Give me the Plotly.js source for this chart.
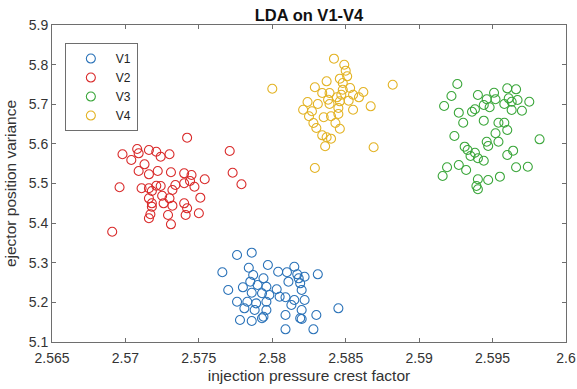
<!DOCTYPE html>
<html>
<head>
<meta charset="utf-8">
<script src="https://cdn.plot.ly/plotly-3.0.1.min.js"></script>
<style>html,body{margin:0;padding:0;background:#fff;}#chart{width:577px;height:389px;}</style>
</head>
<body>
<div id="chart"></div>
<script>
// Data
const seriesNames = ["V1", "V2", "V3", "V4"];

const v1x = [2.5776,2.5786,2.5766,2.5784,2.5797,2.5804,2.5810,2.5815,2.5817,2.5822,2.5831,2.5787,2.5794,2.5770,2.5780,2.5785,2.5790,2.5796,2.5803,2.5811,2.5819,2.5820,2.5786,2.5793,2.5798,2.5809,2.5815,2.5822,2.5776,2.5783,2.5789,2.5796,2.5781,2.5788,2.5796,2.5813,2.5820,2.5845,2.5778,2.5786,2.5793,2.5809,2.5819,2.5820,2.5830,2.5809,2.5828,2.5805,2.5818,2.5794];
const v1y = [5.3195,5.3254,5.2759,5.2875,5.2943,5.2774,5.2759,5.2900,5.2708,5.2648,5.2708,5.2691,5.2607,5.2312,5.2380,5.2522,5.2438,5.2395,5.2330,5.2522,5.2481,5.2312,5.2244,5.2229,5.2186,5.2128,5.2060,5.2060,5.2017,5.2017,5.1976,5.2017,5.1850,5.1807,5.1807,5.1934,5.1807,5.1850,5.1555,5.1530,5.1598,5.1681,5.1598,5.1580,5.1681,5.1320,5.1320,5.2143,5.2607,5.1638];

const v2x = [2.5742,2.5771,2.5698,2.5708,2.5709,2.5704,2.5716,2.5721,2.5724,2.5730,2.5713,2.5709,2.5716,2.5722,2.5731,2.5740,2.5745,2.5744,2.5754,2.5773,2.5779,2.5696,2.5711,2.5716,2.5718,2.5724,2.5734,2.5740,2.5747,2.5716,2.5725,2.5732,2.5730,2.5718,2.5726,2.5732,2.5740,2.5742,2.5751,2.5717,2.5716,2.5729,2.5741,2.5750,2.5731,2.5691,2.5718,2.5721];
const v2y = [5.6156,5.5820,5.5737,5.5871,5.5762,5.5593,5.5845,5.5802,5.5676,5.5737,5.5484,5.5315,5.5232,5.5315,5.5283,5.5257,5.5214,5.5063,5.5106,5.5272,5.4980,5.4904,5.4879,5.4879,5.4811,5.4937,5.4962,5.5005,5.4919,5.4626,5.4692,5.4836,5.4626,5.4500,5.4500,5.4440,5.4500,5.4374,5.4642,5.4223,5.4122,5.4205,5.4205,5.4248,5.3970,5.3783,5.4414,5.4944];

const v3x = [2.5926,2.5922,2.5917,2.5940,2.5951,2.5960,2.5966,2.5946,2.5952,2.5961,2.5963,2.5967,2.5975,2.5944,2.5938,2.5936,2.5948,2.5958,2.5963,2.5970,2.5927,2.5930,2.5944,2.5954,2.5958,2.5960,2.5952,2.5924,2.5946,2.5954,2.5982,2.5931,2.5933,2.5938,2.5947,2.5935,2.5940,2.5944,2.5964,2.5960,2.5927,2.5932,2.5919,2.5916,2.5966,2.5974,2.5940,2.5947,2.5955,2.5939,2.5940];
const v3y = [5.7511,5.7208,5.6956,5.7233,5.7291,5.7402,5.7377,5.7125,5.7125,5.7150,5.7064,5.7107,5.7064,5.6981,5.6873,5.6812,5.6923,5.7006,5.6855,5.6837,5.6787,5.6534,5.6585,5.6534,5.6534,5.6350,5.6267,5.6199,5.6055,5.6055,5.6115,5.5929,5.5845,5.5777,5.5946,5.5694,5.5636,5.5575,5.5828,5.5719,5.5467,5.5341,5.5409,5.5189,5.5409,5.5424,5.5106,5.5088,5.5172,5.4937,5.4854];

const v4x = [2.5842,2.5849,2.5850,2.5851,2.5846,2.5837,2.5800,2.5882,2.5829,2.5848,2.5853,2.5834,2.5839,2.5844,2.5847,2.5855,2.5862,2.5859,2.5824,2.5831,2.5839,2.5846,2.5852,2.5867,2.5821,2.5827,2.5845,2.5855,2.5825,2.5835,2.5840,2.5845,2.5828,2.5843,2.5830,2.5846,2.5834,2.5837,2.5840,2.5836,2.5869,2.5829,2.5838,2.5848];
const v4y = [5.8150,5.7998,5.7847,5.7705,5.7645,5.7579,5.7392,5.7493,5.7428,5.7536,5.7410,5.7284,5.7284,5.7175,5.7241,5.7241,5.7309,5.7175,5.7057,5.7006,5.7006,5.7074,5.7090,5.6948,5.6862,5.6822,5.6905,5.6862,5.6696,5.6671,5.6696,5.6754,5.6527,5.6527,5.6401,5.6383,5.6216,5.6166,5.6131,5.5939,5.5914,5.5391,5.7115,5.7367];

const xTickVals = [2.565, 2.57, 2.575, 2.58, 2.585, 2.59, 2.595, 2.6];
const xTickText = ["2.565", "2.57", "2.575", "2.58", "2.585", "2.59", "2.595", "2.6"];
const yTickVals = [5.1, 5.2, 5.3, 5.4, 5.5, 5.6, 5.7, 5.8, 5.9];
const yTickText = ["5.1", "5.2", "5.3", "5.4", "5.5", "5.6", "5.7", "5.8", "5.9"];

const colors = ["#2a72b8", "#d92a2a", "#3aa63a", "#e3b324"];
const xs = [v1x, v2x, v3x, v4x];
const ys = [v1y, v2y, v3y, v4y];

const traces = seriesNames.map((n, i) => ({
  type: "scatter", mode: "markers", name: n,
  x: xs[i], y: ys[i],
  marker: {symbol: "circle-open", size: 9, color: colors[i], line: {width: 1.1, color: colors[i]}}
}));

const fontFam = "Arial, 'Liberation Sans', Helvetica, sans-serif";
const axisCommon = {
  showgrid: false, zeroline: false, showline: true, linecolor: "#6e6e6e", linewidth: 1,
  mirror: "ticks", ticks: "inside", ticklen: 4, tickcolor: "#6e6e6e", tickwidth: 1,
  tickfont: {family: fontFam, size: 14, color: "#333333"}
};

const layout = {
  width: 577, height: 389,
  margin: {l: 52, r: 11, t: 25, b: 47},
  paper_bgcolor: "#ffffff", plot_bgcolor: "#ffffff",
  font: {family: fontFam, color: "#333333"},
  title: {text: "<b>LDA on V1-V4</b>", font: {family: fontFam, size: 16.5, color: "#111111"},
          x: 0.5, xref: "paper", y: 1 - 15/389, yref: "container", yanchor: "middle"},
  xaxis: Object.assign({}, axisCommon, {
    range: [2.565, 2.6], tickmode: "array", tickvals: xTickVals, ticktext: xTickText,
    ticklabelstandoff: 3,
    title: {text: "injection pressure crest factor", font: {family: fontFam, size: 15.5, color: "#333333"}, standoff: 5}
  }),
  yaxis: Object.assign({}, axisCommon, {
    range: [5.1, 5.9], tickmode: "array", tickvals: yTickVals, ticktext: yTickText,
    title: {text: "ejector position variance", font: {family: fontFam, size: 15.5, color: "#333333"}, standoff: 8}
  }),
  showlegend: true,
  legend: {x: 0.025, y: 0.943, xanchor: "left", yanchor: "top", itemwidth: 40,
           bgcolor: "#ffffff", bordercolor: "#6e6e6e", borderwidth: 1,
           font: {family: fontFam, size: 12, color: "#222222"}, tracegroupgap: 0}
};

Plotly.newPlot("chart", traces, layout, {staticPlot: true, displayModeBar: false});
</script>
</body>
</html>
